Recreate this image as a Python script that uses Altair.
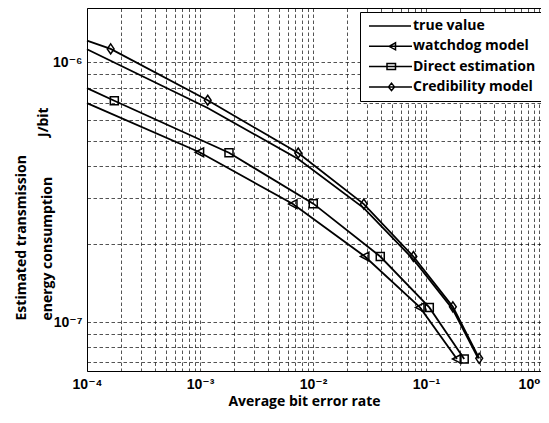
import altair as alt
import pandas as pd

# ---------------- data ----------------
series_order = ["true value", "watchdog model", "Direct estimation", "Credibility model"]

true_x = [1e-4, 1.17e-3, 7.4e-3, 0.0282, 0.0774, 0.173, 0.29]
true_y = [1.124e-6, 6.68e-7, 4.25e-7, 2.75e-7, 1.745e-7, 1.119e-7, 7.26e-8]

watchdog_start = (1e-4, 6.97e-7)
watchdog_x = [9.92e-4, 6.65e-3, 0.0288, 0.0885, 0.188]
watchdog_y = [4.51e-7, 2.85e-7, 1.79e-7, 1.14e-7, 7.22e-8]

direct_start = (1e-4, 7.96e-7)
direct_x = [1.745e-4, 1.806e-3, 0.01006, 0.0394, 0.107, 0.218]
direct_y = [7.12e-7, 4.49e-7, 2.86e-7, 1.79e-7, 1.14e-7, 7.22e-8]

cred_start = (1e-4, 1.213e-6)
cred_x = [1.62e-4, 1.17e-3, 7.4e-3, 0.0282, 0.0774, 0.173, 0.296]
cred_y = [1.127e-6, 7.15e-7, 4.48e-7, 2.85e-7, 1.79e-7, 1.146e-7, 7.26e-8]

x_decades = [-4, -3, -2, -1, 0]
y_decades = [-7, -6]
x_labels = ["10⁻⁴", "10⁻³", "10⁻²", "10⁻¹", "10⁰"]
y_labels = ["10⁻⁷", "10⁻⁶"]

x_domain = [1e-4, 1.0425]
y_domain = [6.49e-8, 1.62e-6]

# ---------------- tables ----------------
rows_line = []
for x, y in zip(true_x, true_y):
    rows_line.append({"series": "true value", "x": x, "y": y})
for name, start, xs, ys in [
    ("watchdog model", watchdog_start, watchdog_x, watchdog_y),
    ("Direct estimation", direct_start, direct_x, direct_y),
    ("Credibility model", cred_start, cred_x, cred_y),
]:
    rows_line.append({"series": name, "x": start[0], "y": start[1]})
    for x, y in zip(xs, ys):
        rows_line.append({"series": name, "x": x, "y": y})
line_df = pd.DataFrame(rows_line)

rows_mark = []
for name, xs, ys in [
    ("watchdog model", watchdog_x, watchdog_y),
    ("Direct estimation", direct_x, direct_y),
    ("Credibility model", cred_x, cred_y),
]:
    for x, y in zip(xs, ys):
        rows_mark.append({"series": name, "x": x, "y": y})
mark_df = pd.DataFrame(rows_mark)

# grid values (every 1..9 x 10^k inside the domain)
x_grid = [k * 10.0 ** e for e in range(-4, 1) for k in range(1, 10)]
x_grid = [v for v in x_grid if x_domain[0] * 0.999 <= v <= x_domain[1]]
y_grid = [k * 10.0 ** e for e in range(-8, -5) for k in range(1, 10)]
y_grid = [v for v in y_grid if y_domain[0] <= v <= y_domain[1]]


def label_expr(decades, labels):
    e = "round(log(datum.value)/LN10)"
    inner = "''"
    for d, lab in reversed(list(zip(decades, labels))):
        inner = f"({e} == {d} ? '{lab}' : {inner})"
    return f"abs(log(datum.value)/LN10 - {e}) < 0.001 ? {inner} : ''"


xscale = alt.Scale(type="log", domain=x_domain, nice=False)
yscale = alt.Scale(type="log", domain=y_domain, nice=False)

grid_common = dict(grid=True, gridColor="#000000", gridDash=[3.5, 2.5], gridWidth=0.8,
                   gridOpacity=0.85, ticks=False, tickSize=0, domainColor="#000000",
                   domainWidth=1, labelOverlap=False, labelColor="#000000",
                   labelFont="Liberation Sans, DejaVu Sans", labelFontWeight="bold",
                   labelFontSize=14)

x_axis = alt.Axis(values=x_grid, labelExpr=label_expr(x_decades, x_labels),
                  labelBaseline="alphabetic", labelPadding=17, labelAlign="center",
                  labelOffset={"condition": {"test": "datum.value > 0.99", "value": -10},
                               "value": 0},
                  title="Average bit error rate", titleFont="Open Sans",
                  titleFontWeight="bold", titleFontSize=14, titleColor="#000000",
                  titleX=217, titleY=34, titleBaseline="alphabetic", **grid_common)

y_axis = alt.Axis(values=y_grid, labelExpr=label_expr(y_decades, y_labels),
                  labelBaseline="middle", labelAlign="right", labelPadding=5,
                  title=["Estimated transmission", "energy consumption"],
                  titleFont="Open Sans", titleFontWeight="bold", titleFontSize=14,
                  titleColor="#000000", titleAngle=270, titleAlign="left",
                  titleBaseline="alphabetic", titleX=-62, titleY=312,
                  titleLineHeight=26, **grid_common)

marker_paths = [
    "M-1,0H1",
    "M-1.1,0L1,-1.1L1,1.1Z",
    "M-1,-1H1V1H-1Z",
    "M0,-1.25L0.85,0L0,1.25L-0.85,0Z",
]
legend_paths = [
    "M-4.2,0H4.2",
    "M-4.2,0H4.4M-0.2,0L1.1,-0.7L1.1,0.7Z",
    "M-4.2,0H4.4M-0.6,-0.6H1.1V0.6H-0.6Z",
    "M-4.2,0H4.4M0.3,-0.75L0.9,0L0.3,0.75L-0.3,0Z",
]

lines = alt.Chart(line_df).mark_line(color="#000000", strokeWidth=1.8).encode(
    x=alt.X("x:Q", scale=xscale, axis=x_axis),
    y=alt.Y("y:Q", scale=yscale, axis=y_axis),
    detail="series:N",
    order="x:Q",
)

markers = alt.Chart(mark_df).mark_point(filled=False, color="#000000", strokeWidth=1.5,
                                        size=64, opacity=1).encode(
    x=alt.X("x:Q", scale=xscale, axis=None),
    y=alt.Y("y:Q", scale=yscale, axis=y_axis),
    shape=alt.Shape("series:N", scale=alt.Scale(domain=series_order, range=marker_paths),
                    legend=None),
)

legend_layer = alt.Chart(mark_df).mark_point(filled=False, color="#000000", strokeWidth=1.5,
                                             size=100, opacity=0).encode(
    x=alt.X("x:Q", scale=xscale, axis=None),
    y=alt.Y("y:Q", scale=yscale, axis=y_axis),
    shape=alt.Shape(
        "series:N",
        scale=alt.Scale(domain=series_order, range=legend_paths),
        legend=alt.Legend(
            title=None, orient="none", legendX=273, legendY=4, padding=7,
            rowPadding=6.3, symbolSize=100, symbolOffset=16, labelOffset=16,
            labelFont="Open Sans", labelFontSize=14, labelFontWeight="bold",
            labelColor="#000000", labelLimit=300, strokeColor="#000000",
            fillColor="#ffffff", symbolStrokeColor="#000000", symbolStrokeWidth=1.5,
            symbolFillColor="transparent", symbolOpacity=1,
        ),
    ),
)

top_axis = alt.Chart(mark_df).mark_point(opacity=0).encode(
    x=alt.X("x:Q", scale=xscale,
            axis=alt.Axis(orient="top", labels=False, ticks=False, grid=False,
                          domain=True, domainColor="#000000", domainWidth=1, title=None)),
    y=alt.Y("y:Q", scale=yscale, axis=y_axis),
)

unit_text = alt.Chart(pd.DataFrame({"t": ["J/bit"]})).mark_text(
    angle=270, align="left", baseline="alphabetic", font="Open Sans",
    fontWeight="bold", fontSize=14, color="#000000",
).encode(text="t:N", x=alt.value(-39), y=alt.value(129))

chart = alt.layer(lines, markers, legend_layer, top_axis, unit_text).resolve_scale(
    shape="independent"
).resolve_axis(x="independent").properties(
    width=454, height=363,
    autosize=alt.AutoSizeParams(type="none"),
    padding={"left": 79, "top": 0, "right": 0, "bottom": 38},
).configure_view(stroke=None)

chart.save("out.html", embed_options={"renderer": "svg", "actions": False})
